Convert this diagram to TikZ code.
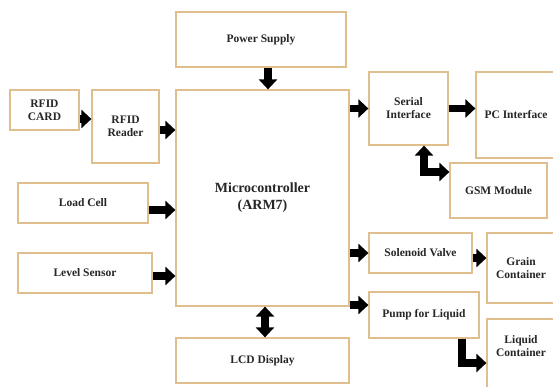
\documentclass[tikz,border=0pt]{standalone}
\usepackage{fontspec}
\setmainfont{Liberation Serif}
\usetikzlibrary{arrows.meta}
\definecolor{boxline}{RGB}{225,190,142}
\tikzset{
    blockbox/.style={draw=boxline, line width=1.2pt, fill=white, align=center,
        font=\fontsize{11.5}{13}\selectfont\bfseries, text=black!85},
    fatarrow/.style={line width=7.5pt, -{Triangle[length=10pt,width=18pt]}},
    fatboth/.style={line width=7.5pt, {Triangle[length=10pt,width=18pt]}-{Triangle[length=10pt,width=18pt]}}
}
\begin{document}
\begin{tikzpicture}[x=1pt,y=-1pt]
    \useasboundingbox (0,0) rectangle (553,387);
    \clip (0,0) rectangle (553,387);

    % Controller and supply
    \node[blockbox, minimum width=170pt, minimum height=55pt] (pwr) at (261,39.5) {Power Supply};
    \node[blockbox, minimum width=173pt, minimum height=216pt,
          font=\fontsize{14}{17}\selectfont\bfseries] (mcu) at (262.5,198) {Microcontroller\\(ARM7)};
    \node[blockbox, minimum width=173pt, minimum height=45pt] (lcd) at (262.5,360.5) {LCD Display};

    % Inputs on the left
    \node[blockbox, minimum width=69pt, minimum height=40pt] (card) at (44.5,110) {RFID\\CARD};
    \node[blockbox, minimum width=67pt, minimum height=73pt] (reader) at (125.5,126.5) {RFID\\Reader};
    \node[blockbox, minimum width=130pt, minimum height=40pt] (load) at (83,203) {Load Cell};
    \node[blockbox, minimum width=134pt, minimum height=40pt] (level) at (85,273) {Level Sensor};

    % Outputs on the right
    \node[blockbox, minimum width=79pt, minimum height=73pt] (serial) at (408.5,108.5) {Serial\\Interface};
    \node[blockbox, minimum width=80pt, minimum height=86pt] (pc) at (516,115) {PC Interface};
    \node[blockbox, minimum width=97pt, minimum height=55pt] (gsm) at (498.5,190.5) {GSM Module};
    \node[blockbox, minimum width=103pt, minimum height=40pt] (sol) at (420.5,253) {Solenoid Valve};
    \node[blockbox, minimum width=68pt, minimum height=70pt] (grain) at (521,268) {Grain\\Container};
    \node[blockbox, minimum width=110pt, minimum height=46pt] (pump) at (424,315) {Pump for Liquid};
    \node[blockbox, minimum width=68pt, minimum height=80pt, text depth=26pt] (liquid) at (521,359) {Liquid\\Container};

    % Arrows into the controller
    \draw[fatarrow] ([xshift=7pt]pwr.south) -- ([xshift=7pt]pwr.south |- mcu.north);
    \draw[fatarrow] ([yshift=-9pt]card.east) -- ([yshift=-9pt]card.east -| reader.west);
    \draw[fatarrow] ([yshift=-3.5pt]reader.east) -- ([yshift=-3.5pt]reader.east -| mcu.west);
    \draw[fatarrow] ([yshift=-7pt]load.east) -- ([yshift=-7pt]load.east -| mcu.west);
    \draw[fatarrow] ([yshift=-3pt]level.east) -- ([yshift=-3pt]level.east -| mcu.west);
    \draw[fatboth] ([xshift=2.5pt]mcu.south) -- ([xshift=2.5pt]mcu.south |- lcd.north);

    % Arrows out of the controller
    \draw[fatarrow] (serial.west -| mcu.east) -- (serial.west);
    \draw[fatarrow] (serial.east) -- (serial.east -| pc.west);
    \draw[fatboth, line join=miter] ([xshift=15.5pt]serial.south) |- ([yshift=18.5pt]gsm.west);
    \draw[fatarrow] (sol.west -| mcu.east) -- (sol.west);
    \draw[fatarrow] ([yshift=-5pt]sol.east) -- ([yshift=-5pt]sol.east -| grain.west);
    \draw[fatarrow] ([yshift=10pt]pump.west -| mcu.east) -- ([yshift=10pt]pump.west);
    \draw[fatarrow, line join=miter] ([xshift=38pt]pump.south) |- ([yshift=-4pt]liquid.west);
\end{tikzpicture}
\end{document}
